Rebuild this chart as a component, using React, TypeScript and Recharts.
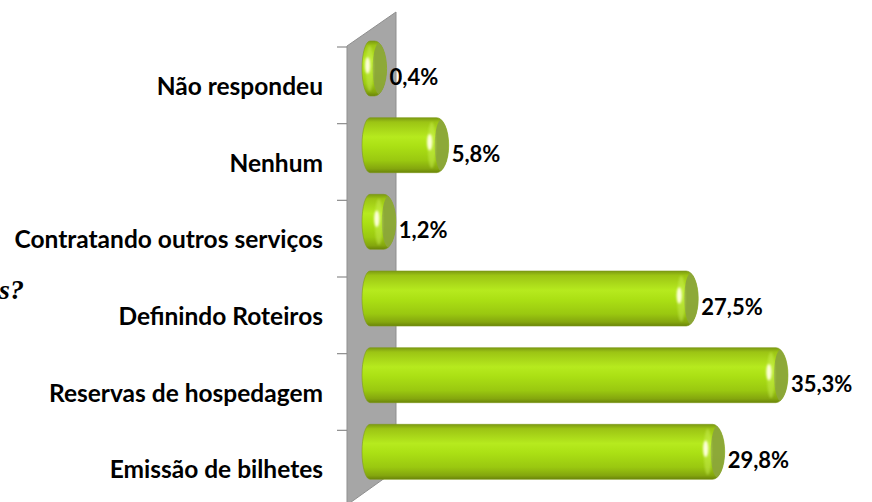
import React from "react";
import { BarChart, Bar, XAxis, YAxis, LabelList } from "recharts";

const categories = [
  "Não respondeu",
  "Nenhum",
  "Contratando outros serviços",
  "Definindo Roteiros",
  "Reservas de hospedagem",
  "Emissão de bilhetes",
];
const percentages = [0.4, 5.8, 1.2, 27.5, 35.3, 29.8];

const data = categories.map((name, i) => ({ name, value: percentages[i] }));

const W = 872;
const H = 502;
const PLOT_LEFT = 362;
const MARGIN = { top: 30, right: 50, bottom: 12, left: 0 };
const BAND = (H - MARGIN.top - MARGIN.bottom) / categories.length;
const LABEL_DROP = 17; // labels sit lower than the bars (3D floor)
const CAP_L = 8;
const CAP_R = 12;
const FONT = "Lato, 'Open Sans', sans-serif";

function Cylinder(props: any) {
  const { x, y, width, height, index } = props;
  const h = height;
  const cy = y + h / 2;
  const xs = x + CAP_L;
  const xb = xs + Math.max(width, 0);
  const d = `M ${xs} ${y} H ${xb} A ${CAP_R} ${h / 2} 0 0 1 ${xb} ${y + h} H ${xs} A ${CAP_L} ${h / 2} 0 0 1 ${xs} ${y} Z`;
  const clip = `cyl-clip-${index}`;
  return (
    <g>
      <defs>
        <clipPath id={clip}>
          <path d={d} />
        </clipPath>
      </defs>
      <path d={d} fill="url(#cylBody)" stroke="#7e9a1a" strokeWidth={0.6} />
      <g clipPath={`url(#${clip})`}>
        <ellipse cx={xb + 5} cy={cy} rx={7} ry={h / 2 - 1.5} fill="#8ba53a" opacity={0.95} />
        <ellipse cx={xb - 5} cy={cy} rx={4} ry={h * 0.42} fill="#cdf25a" opacity={0.45} filter="url(#soft)" />
        <ellipse cx={xb - 7} cy={cy - 3} rx={2.6} ry={h * 0.15} fill="#fdffd8" filter="url(#soft)" />
      </g>
    </g>
  );
}

function ValueLabel(props: any) {
  const { x, y, width, height, value } = props;
  const txt = Number(value).toFixed(1).replace(".", ",") + "%";
  return (
    <text
      x={x + width + CAP_L + CAP_R + 3}
      y={y + height / 2 + 8}
      dominantBaseline="central"
      fontFamily={FONT}
      fontWeight="bold"
      fontSize={22}
      fill="#000"
    >
      {txt}
    </text>
  );
}

function CategoryTick(props: any) {
  const { y, payload } = props;
  const ly = y + LABEL_DROP;
  const tickY = y - BAND / 2 + LABEL_DROP;
  return (
    <g>
      <line x1={PLOT_LEFT - 25} x2={PLOT_LEFT - 15} y1={tickY} y2={tickY} stroke="#8c8c8c" strokeWidth={1.2} />
      <text
        x={PLOT_LEFT - 39}
        y={ly}
        textAnchor="end"
        dominantBaseline="central"
        fontFamily={FONT}
        fontWeight="bold"
        fontSize={24.5}
        fill="#000"
      >
        {payload.value}
      </text>
    </g>
  );
}

function Wall() {
  const l = PLOT_LEFT - 15;
  const r = PLOT_LEFT + 34;
  return (
    <svg width={W} height={H} style={{ position: "absolute", left: 0, top: 0 }}>
      <polygon
        points={`${l},46 ${r},12 ${r},470 ${l},505`}
        fill="#a6a6a6"
        stroke="#8f8f8f"
        strokeWidth={1}
      />
      <text
        x={-1}
        y={299}
        fontFamily="'Liberation Serif', serif"
        fontStyle="italic"
        fontWeight="bold"
        fontSize={28}
        fill="#000"
      >
        s?
      </text>
    </svg>
  );
}

export default function App() {
  return (
    <div style={{ position: "fixed", left: 0, top: 0, width: W, height: H, background: "#fff" }}>
      <Wall />
      <div style={{ position: "absolute", left: 0, top: 0 }}>
        <BarChart width={W} height={H} data={data} layout="vertical" margin={MARGIN}>
          <defs>
            <linearGradient id="cylBody" x1="0" y1="0" x2="0" y2="1">
              <stop offset="0%" stopColor="#7b9a12" />
              <stop offset="8%" stopColor="#9cc414" />
              <stop offset="35%" stopColor="#b6ea1e" />
              <stop offset="52%" stopColor="#abe014" />
              <stop offset="78%" stopColor="#9ac810" />
              <stop offset="93%" stopColor="#84a60e" />
              <stop offset="100%" stopColor="#6a840a" />
            </linearGradient>
            <filter id="soft" x="-50%" y="-50%" width="200%" height="200%">
              <feGaussianBlur stdDeviation="1.2" />
            </filter>
          </defs>
          <XAxis type="number" domain={[0, 40]} hide />
          <YAxis
            type="category"
            dataKey="name"
            width={PLOT_LEFT}
            axisLine={false}
            tickLine={false}
            tick={<CategoryTick />}
            interval={0}
          />
          <Bar dataKey="value" barSize={55} shape={<Cylinder />} isAnimationActive={false}>
            <LabelList dataKey="value" content={<ValueLabel />} />
          </Bar>
        </BarChart>
      </div>
    </div>
  );
}
